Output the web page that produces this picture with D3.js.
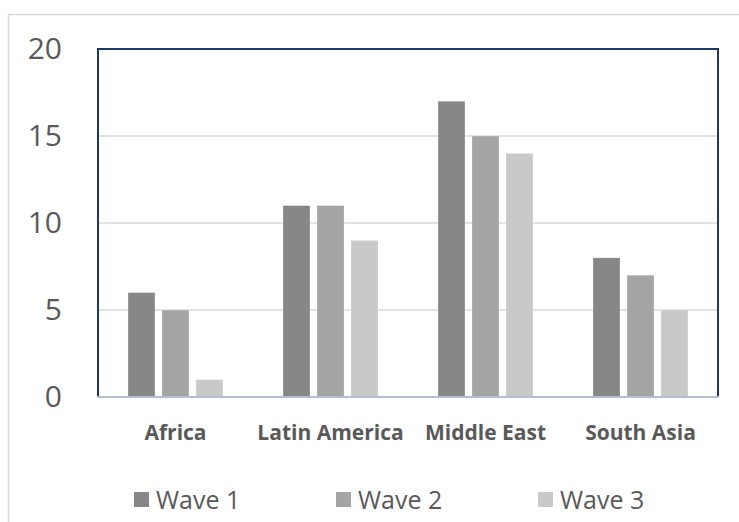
<!DOCTYPE html>
<html>
<head>
<meta charset="utf-8">
<script src="https://cdn.jsdelivr.net/npm/d3@7"></script>
<style>
  html, body { margin: 0; padding: 0; background: #ffffff; }
  svg { display: block; }
  text { font-family: "Open Sans", "Noto Sans", sans-serif; fill: #595959; }
</style>
</head>
<body>
<svg id="chart" width="739" height="522"></svg>
<script>
// Regions along the x axis
const categories = ["Africa", "Latin America", "Middle East", "South Asia"];
// Survey waves (series)
const seriesNames = ["Wave 1", "Wave 2", "Wave 3"];
const wave1 = [6, 11, 17, 8];
const wave2 = [5, 11, 15, 7];
const wave3 = [1, 9, 14, 5];
const yTicks = [0, 5, 10, 15, 20];
const colors = ["#878787", "#a5a5a5", "#c9c9c9"];

const seriesValues = [wave1, wave2, wave3];
const rows = categories.map((c, i) => ({
  category: c,
  values: seriesNames.map((s, j) => ({ series: s, value: seriesValues[j][i] }))
}));

const svg = d3.select("#chart");
const plot = { left: 98, right: 718, top: 49, bottom: 397 };

// Outer chart frame
svg.append("rect")
  .attr("x", 8.5).attr("y", 14.5)
  .attr("width", 760).attr("height", 540)
  .attr("fill", "none")
  .attr("stroke", "#d9d9d9")
  .attr("stroke-width", 1.5);

const x0 = d3.scaleBand()
  .domain(categories)
  .range([plot.left, plot.right])
  .paddingInner(0.387)
  .paddingOuter(0.1935);

const x1 = d3.scaleBand()
  .domain(seriesNames)
  .range([0, x0.bandwidth()])
  .paddingInner(0.206)
  .paddingOuter(0);

const y = d3.scaleLinear()
  .domain([0, 20])
  .range([plot.bottom, plot.top]);

const color = d3.scaleOrdinal().domain(seriesNames).range(colors);

// Horizontal gridlines
svg.append("g")
  .selectAll("line")
  .data(yTicks.filter(t => t > 0 && t < 20))
  .join("line")
  .attr("x1", plot.left).attr("x2", plot.right)
  .attr("y1", d => y(d)).attr("y2", d => y(d))
  .attr("stroke", "#d9d9d9")
  .attr("stroke-width", 1.5);

// Bars
svg.append("g")
  .selectAll("g")
  .data(rows)
  .join("g")
  .attr("transform", d => `translate(${x0(d.category)},0)`)
  .selectAll("rect")
  .data(d => d.values)
  .join("rect")
  .attr("x", d => x1(d.series))
  .attr("width", x1.bandwidth())
  .attr("y", d => y(d.value))
  .attr("height", d => y(0) - y(d.value))
  .attr("fill", d => color(d.series))
  .attr("stroke", "#ffffff")
  .attr("stroke-opacity", 0.35)
  .attr("stroke-width", 0.75);

// Plot-area border
svg.append("rect")
  .attr("x", plot.left).attr("y", plot.top)
  .attr("width", plot.right - plot.left)
  .attr("height", plot.bottom - plot.top)
  .attr("fill", "none")
  .attr("stroke", "#1f3868")
  .attr("stroke-width", 2);

// Baseline (category axis)
const xAxis = svg.append("g")
  .attr("transform", `translate(0,${plot.bottom})`)
  .call(d3.axisBottom(x0).tickSize(0).tickPadding(28));
xAxis.select(".domain")
  .attr("d", `M${plot.left - 1},0H${plot.right + 1}`)
  .attr("stroke", "#b7bfd3")
  .attr("stroke-width", 2);
xAxis.selectAll("text")
  .style("font-family", '"Open Sans", "Noto Sans", sans-serif')
  .style("font-size", "21px")
  .style("font-weight", "bold")
  .attr("fill", "#595959");

// Value axis labels
const yAxis = svg.append("g")
  .attr("transform", "translate(62,0)")
  .call(d3.axisLeft(y).tickValues(yTicks).tickSize(0).tickPadding(0).tickFormat(d3.format("d")));
yAxis.select(".domain").remove();
yAxis.selectAll("text")
  .style("font-family", '"Open Sans", "Noto Sans", sans-serif')
  .style("font-size", "30px")
  .attr("fill", "#595959");

// Legend
const legendX = [134, 336, 538];
const legend = svg.append("g")
  .selectAll("g")
  .data(seriesNames)
  .join("g")
  .attr("transform", (d, i) => `translate(${legendX[i]},492)`);
legend.append("rect")
  .attr("width", 15).attr("height", 15)
  .attr("fill", d => color(d));
legend.append("text")
  .attr("x", 22).attr("y", 8)
  .attr("dy", "0.36em")
  .style("font-size", "25px")
  .text(d => d);
</script>
</body>
</html>
